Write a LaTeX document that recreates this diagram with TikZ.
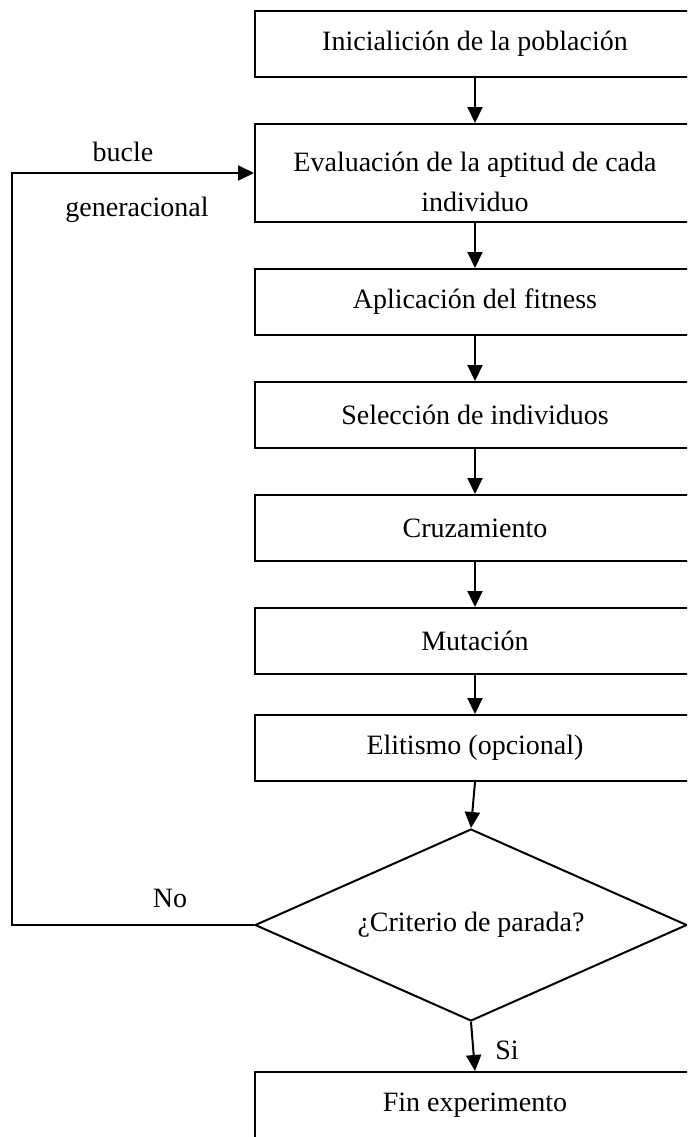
\documentclass[tikz,border=0pt]{standalone}
\usepackage{fontspec}
\setmainfont{Liberation Serif}
\usetikzlibrary{arrows.meta,positioning,shapes.geometric}

\begin{document}
\begin{tikzpicture}[
    font=\fontsize{14pt}{20pt}\selectfont,
    node distance=22.5pt,
    stage/.style={draw, line width=1pt, minimum width=220pt, minimum height=33pt, align=center, inner sep=0pt},
    decision/.style={draw, diamond, line width=1pt, minimum width=216pt, minimum height=96pt, aspect=2.25, inner sep=0pt},
    line/.style={-{Triangle[length=8pt,width=7.5pt]}, line width=1pt}
  ]
    \useasboundingbox (0,0) rectangle (343.5pt,-568.5pt);
    \clip (0,0) rectangle (343.5pt,-568.5pt);

    \node[stage] (ini) at (237.5pt,-22pt) {Inicialición de la población};
    \node[stage, minimum height=49pt, below=of ini] (eval) {\rule{0pt}{19pt}Evaluación de la aptitud de cada\\individuo};
    \node[stage, below=of eval] (fit) {Aplicación del fitness};
    \node[stage, below=of fit] (sel) {Selección de individuos};
    \node[stage, below=of sel] (cruz) {Cruzamiento};
    \node[stage, below=of cruz] (mut) {Mutación};
    \node[stage, below=19.5pt of mut] (elit) {Elitismo (opcional)};
    \node[decision, below=23pt of elit, xshift=-2pt] (stop) {¿Criterio de parada?};
    \node[stage, below=24.5pt of stop, xshift=2pt] (fin) {Fin experimento};

    \coordinate (back) at (6pt,0);
    \node (bucle) at (61.5pt,-76pt) {bucle};
    \node (gen) at (68.5pt,-105pt) {generacional};
    \node (no) at (85pt,-449pt) {No};
    \node (si) at (253.5pt,-525pt) {Si};

    \draw[line] (ini) -- (eval);
    \draw[line] (eval) -- (fit);
    \draw[line] (fit) -- (sel);
    \draw[line] (sel) -- (cruz);
    \draw[line] (cruz) -- (mut);
    \draw[line] (mut) -- (elit);
    \draw[line] (elit.south) -- (stop.north);
    \draw[line] (stop.south) -- (fin.north);
    \draw[line] (stop.west) -| (back |- eval.west) -- (eval.west);
  \end{tikzpicture}
\end{document}
